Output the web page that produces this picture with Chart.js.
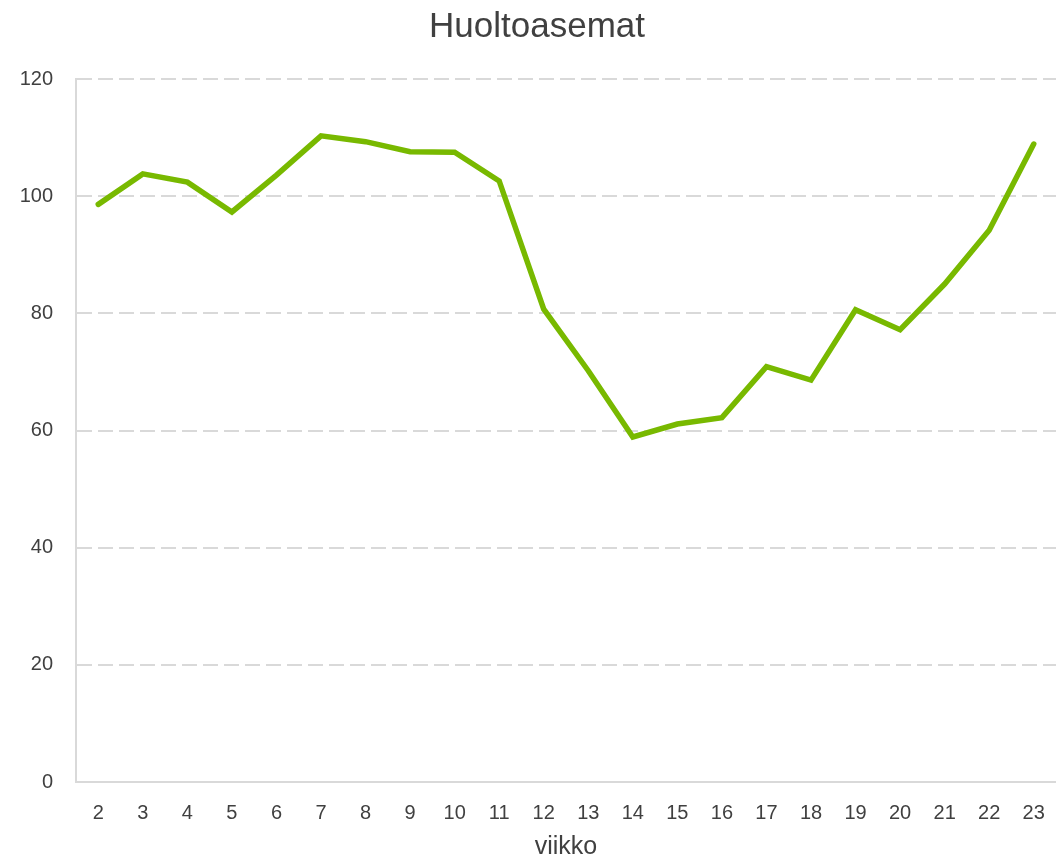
<!DOCTYPE html>
<html>
<head>
<meta charset="utf-8">
<script src="https://cdn.jsdelivr.net/npm/chart.js@4"></script>
<style>
  html, body { margin: 0; padding: 0; background: #fff; overflow: hidden; }
  #wrap { width: 1056px; height: 862px; }
</style>
</head>
<body>
<div id="wrap"><canvas id="huoltoChart"></canvas></div>
<script>
// viikot (x-akseli) ja indeksi
const weeks = ['2', '3', '4', '5', '6', '7', '8', '9', '10', '11', '12', '13', '14', '15', '16', '17', '18', '19', '20', '21', '22', '23'];
const values = [98.6, 103.8, 102.4, 97.3, 103.6, 110.3, 109.3, 107.6, 107.5, 102.6, 80.7, 70.2, 58.9, 61.1, 62.2, 70.9, 68.6, 80.6, 77.2, 85.0, 94.2, 108.9];
const yTicks = [0, 20, 40, 60, 80, 100, 120];

const font = 'Liberation Sans, Arial, sans-serif';
const textColor = '#404040';
const gridColor = '#d9d9d9';

const ctx = document.getElementById('huoltoChart').getContext('2d');
new Chart(ctx, {
  type: 'line',
  data: {
    labels: weeks,
    datasets: [{
      label: 'Huoltoasemat',
      data: values,
      borderColor: '#78b900',
      borderWidth: 5.5,
      pointRadius: 0,
      tension: 0,
      fill: false,
      borderCapStyle: 'round'
    }]
  },
  options: {
    responsive: true,
    maintainAspectRatio: false,
    animation: false,
    layout: { padding: { left: 18, right: 0, top: 0, bottom: 0 } },
    plugins: {
      legend: { display: false },
      tooltip: { enabled: false },
      title: {
        display: true,
        text: 'Huoltoasemat',
        color: textColor,
        font: { family: font, size: 35, weight: 'normal' },
        padding: { top: 6, bottom: 31 }
      }
    },
    scales: {
      x: {
        offset: true,
        grid: { display: false, drawTicks: false },
        border: { display: true, color: gridColor, width: 2 },
        ticks: {
          color: textColor,
          font: { family: font, size: 20 },
          padding: 19,
          maxRotation: 0,
          autoSkip: false
        },
        title: {
          display: true,
          text: 'viikko',
          color: textColor,
          font: { family: font, size: 25 },
          padding: { top: 0, bottom: 0 }
        },
        afterFit: (axis) => {
          axis.height = 80;
          axis.paddingLeft = 0;
          axis.paddingRight = 0;
        }
      },
      y: {
        min: yTicks[0],
        max: yTicks[yTicks.length - 1],
        afterBuildTicks: (axis) => { axis.ticks = yTicks.map(v => ({ value: v })); },
        grid: { color: gridColor, lineWidth: 2, drawTicks: false },
        border: { display: true, color: gridColor, width: 2, dash: [15, 6] },
        ticks: {
          color: textColor,
          font: { family: font, size: 20 },
          padding: 23
        },
        afterFit: (axis) => { axis.width = 58; }
      }
    }
  }
});
</script>
</body>
</html>
